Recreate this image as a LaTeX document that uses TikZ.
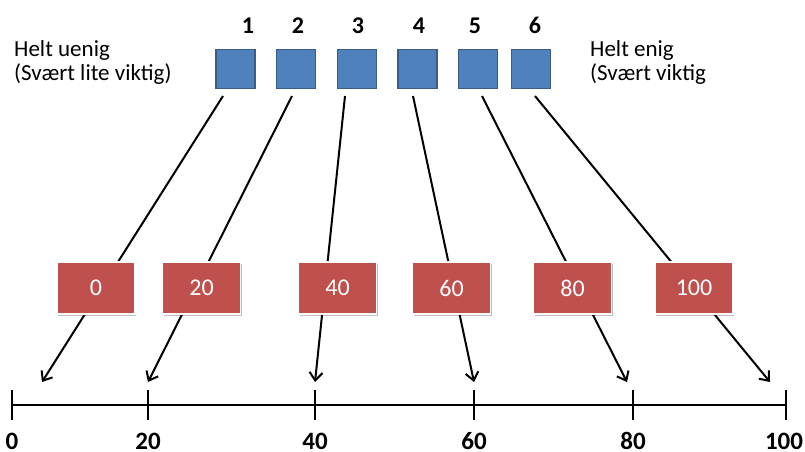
\documentclass[tikz,border=0pt]{standalone}
\usepackage{fontspec}
\setmainfont{Carlito}
\usetikzlibrary{shadows,arrows.meta,calc}
\definecolor{boxblue}{HTML}{4F81BD}
\definecolor{boxblueedge}{HTML}{385D8A}
\definecolor{boxred}{HTML}{C0504D}
\tikzset{
  bluesq/.style={draw=boxblueedge, line width=1.8pt, fill=boxblue, minimum width=39pt, minimum height=39pt, inner sep=0pt},
  redbox/.style={draw=white, line width=1.8pt, fill=boxred, minimum width=78pt, minimum height=52pt, inner sep=0pt,
    text=white, font=\fontsize{24}{26}\selectfont,
    drop shadow={shadow xshift=1pt, shadow yshift=-2pt, opacity=0.25, fill=black}},
  topnum/.style={anchor=base, font=\fontsize{24}{26}\selectfont\bfseries},
  axnum/.style={anchor=base, font=\fontsize{25}{26}\selectfont\bfseries},
  sidetext/.style={anchor=base west, align=left, inner sep=0pt, font=\fontsize{23}{24}\selectfont},
  mapline/.style={line width=2pt, -{Straight Barb[length=8pt,width=13pt,line width=2pt]}},
  axline/.style={line width=2.8pt},
}
\begin{document}
\begin{tikzpicture}[x=1pt,y=-1pt]
\useasboundingbox (0,0) rectangle (805,451);
% top labels
\node[sidetext] (lt) at (14,80) {Helt uenig\\(Svært lite viktig)};
\node[sidetext] (rt) at (590,80) {Helt enig\\(Svært viktig};
% numbers
\node[topnum] (n1) at (248,33) {1};
\node[topnum] (n2) at (298,33) {2};
\node[topnum] (n3) at (358,33) {3};
\node[topnum] (n4) at (419,33) {4};
\node[topnum] (n5) at (475,33) {5};
\node[topnum] (n6) at (535,33) {6};
% blue squares
\node[bluesq] (b1) at (235.5,69) {};
\node[bluesq] (b2) at (296,69) {};
\node[bluesq] (b3) at (357,69) {};
\node[bluesq] (b4) at (417.5,69) {};
\node[bluesq] (b5) at (478,69) {};
\node[bluesq] (b6) at (531,69) {};
% line start and end coordinates
\coordinate (s1) at (223,96);
\coordinate (s2) at (292,96);
\coordinate (s3) at (345,96);
\coordinate (s4) at (413,96);
\coordinate (s5) at (482,96);
\coordinate (s6) at (535,96);
\coordinate (e1) at (42,382);
\coordinate (e2) at (148,382);
\coordinate (e3) at (315,382);
\coordinate (e4) at (474,382);
\coordinate (e5) at (627,382);
\coordinate (e6) at (770,382);
\foreach \i in {1,...,6} {\draw[mapline] (s\i) -- (e\i);}
% red boxes
\node[redbox] (r1) at (96,288) {0};
\node[redbox] (r2) at (201.5,288) {20};
\node[redbox] (r3) at (337.5,288) {40};
\node[redbox] (r4) at (451.5,288) {60};
\node[redbox] (r5) at (572.5,288) {80};
\node[redbox] (r6) at (694,288) {100};
% axis
\coordinate (a0) at (12,405);
\coordinate (a20) at (148,405);
\coordinate (a40) at (315,405);
\coordinate (a60) at (474,405);
\coordinate (a80) at (633,405);
\coordinate (a100) at (786,405);
\draw[axline] (a0) -- (a100);
\foreach \t in {0,20,40,60,80,100} {
  \draw[axline] ($(a\t)+(0,-15)$) -- ($(a\t)+(0,15)$);
}
\node[axnum] (l0) at (12,449) {0};
\node[axnum] (l20) at (148,449) {20};
\node[axnum] (l40) at (315,449) {40};
\node[axnum] (l60) at (474,449) {60};
\node[axnum] (l80) at (633,449) {80};
\node[axnum] (l100) at (784,449) {100};
\end{tikzpicture}
\end{document}
